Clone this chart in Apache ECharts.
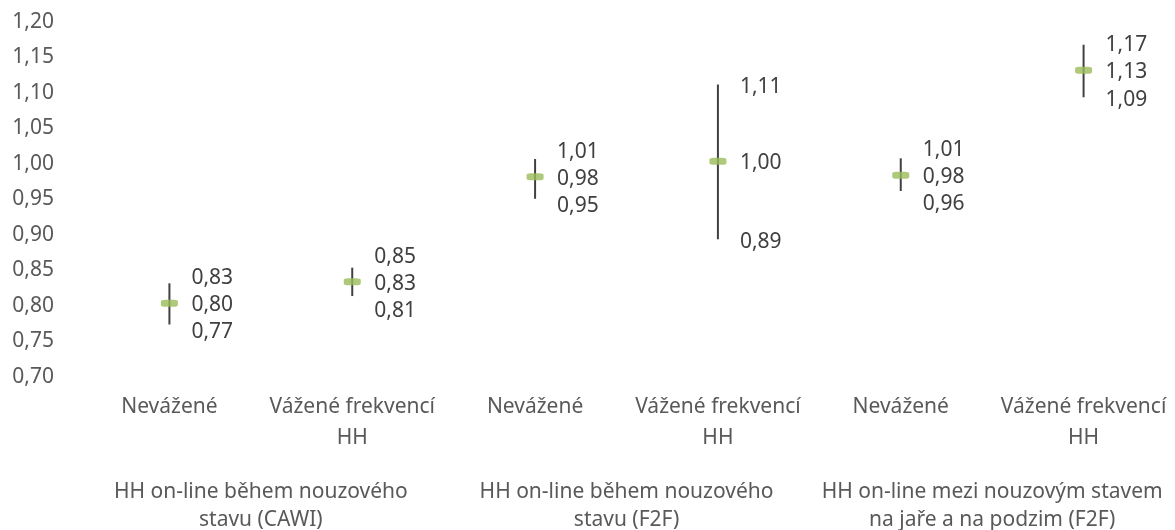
<!DOCTYPE html>
<html>
<head>
<meta charset="utf-8">
<script src="https://cdn.jsdelivr.net/npm/echarts@6/dist/echarts.min.js"></script>
<style>
  html, body { margin: 0; padding: 0; background: #fff; }
  #chart { width: 1175px; height: 530px; }
</style>
</head>
<body>
<div id="chart"></div>
<script>
var categories = ['Nevážené', 'Vážené frekvencí\nHH', 'Nevážené', 'Vážené frekvencí\nHH', 'Nevážené', 'Vážené frekvencí\nHH'];
var groups = ['HH on-line během nouzového\nstavu (CAWI)', 'HH on-line během nouzového\nstavu (F2F)', 'HH on-line mezi nouzovým stavem\nna jaře a na podzim (F2F)'];
var midValues = [0.804, 0.834, 0.982, 1.004, 0.984, 1.132];
var lowValues = [0.774, 0.814, 0.951, 0.894, 0.962, 1.094];
var highValues = [0.832, 0.854, 1.007, 1.112, 1.008, 1.168];

var fontFam = '"Noto Sans", "Open Sans", sans-serif';
var textCol = '#595959';
var fs = 21;

function fmt(v) {
    return v.toFixed(2).replace('.', ',');
}

var chart = echarts.init(document.getElementById('chart'));

var errData = categories.map(function (c, i) { return [i, lowValues[i], highValues[i], midValues[i]]; });

function txt(x, y, s) {
    return {
        type: 'text',
        x: x,
        y: y,
        style: {
            text: s,
            fill: '#404040',
            font: fs + 'px ' + fontFam,
            textAlign: 'left',
            textVerticalAlign: 'middle'
        }
    };
}

var option = {
    animation: false,
    backgroundColor: '#fff',
    grid: { left: 78, right: 0, top: 22, bottom: 153, outerBoundsMode: 'none', containLabel: false },
    xAxis: [{
        type: 'category',
        data: categories,
        position: 'bottom',
        axisLine: { show: false },
        axisTick: { show: false },
        axisLabel: {
            interval: 0,
            margin: 15,
            color: textCol,
            fontFamily: fontFam,
            fontSize: fs,
            lineHeight: 31
        }
    }, {
        type: 'category',
        data: groups,
        position: 'bottom',
        offset: 93,
        axisLine: { show: false },
        axisTick: { show: false },
        axisLabel: {
            interval: 0,
            margin: 8,
            color: textCol,
            fontFamily: fontFam,
            fontSize: fs,
            lineHeight: 28
        }
    }],
    yAxis: {
        type: 'value',
        min: 0.70,
        max: 1.20,
        interval: 0.05,
        axisLine: { show: false },
        axisTick: { show: false },
        splitLine: { show: false },
        axisLabel: {
            margin: 24,
            color: textCol,
            fontFamily: fontFam,
            fontSize: fs,
            formatter: fmt
        }
    },
    series: [{
        type: 'custom',
        name: 'interval',
        z: 2,
        data: errData,
        encode: { x: 0, y: [1, 2] },
        renderItem: function (params, api) {
            var lo = api.coord([api.value(0), api.value(1)]);
            var hi = api.coord([api.value(0), api.value(2)]);
            var md = api.coord([api.value(0), api.value(3)]);
            var tx = md[0] + 22;
            var gap = 27;
            var midY = md[1] + 2;
            var hiY = Math.min(hi[1] + 3, midY - gap);
            var loY = Math.max(lo[1] + 3, midY + gap);
            return {
                type: 'group',
                children: [{
                    type: 'line',
                    shape: { x1: lo[0], y1: lo[1], x2: hi[0], y2: hi[1] },
                    style: { stroke: '#404040', lineWidth: 2 }
                },
                txt(tx, hiY, fmt(api.value(2))),
                txt(tx, midY, fmt(api.value(3))),
                txt(tx, loY, fmt(api.value(1)))]
            };
        }
    }, {
        type: 'scatter',
        name: 'mid',
        z: 3,
        symbol: 'roundRect',
        symbolSize: [17, 7],
        itemStyle: { color: '#9BBB59' },
        data: midValues.map(function (v, i) { return [i, v]; })
    }]
};

chart.setOption(option);
</script>
</body>
</html>
